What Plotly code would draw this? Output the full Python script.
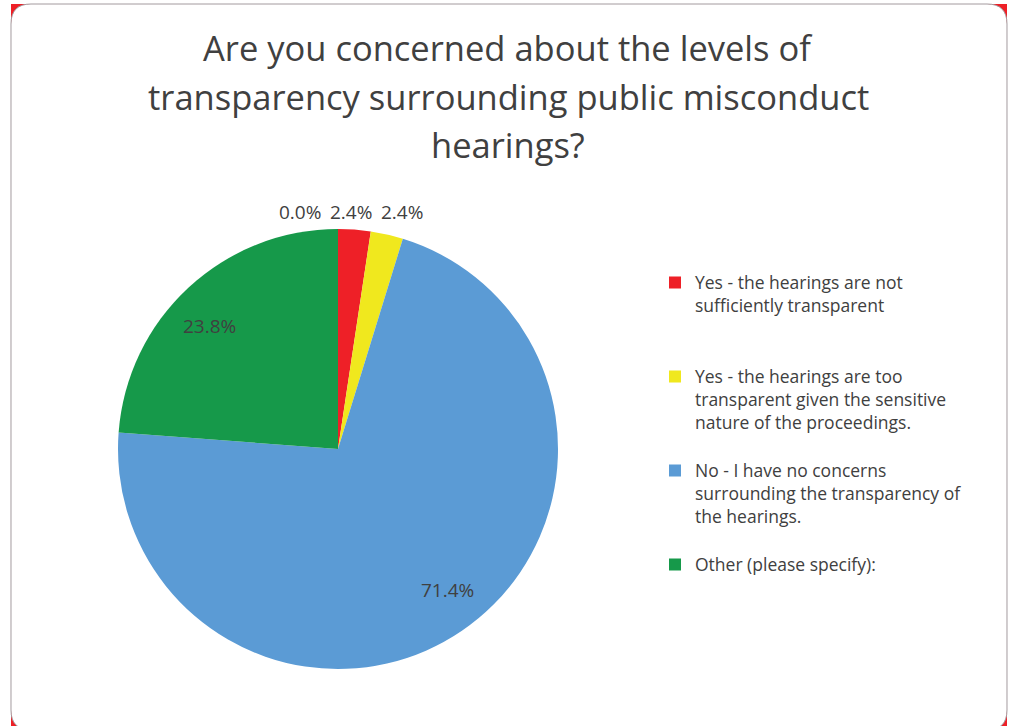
import math
import plotly.graph_objects as go

# Survey responses (counts) and their legend labels
categories = [
    "Yes - the hearings are not<br>sufficiently transparent<br> <br> ",
    "Yes - the hearings are too<br>transparent given the sensitive<br>nature of the proceedings.<br> ",
    "No - I have no concerns<br>surrounding the transparency of<br>the hearings.<br> ",
    "Other (please specify):",
]
counts = [1, 1, 30, 10]
unlisted_count = 0  # answer option nobody picked; labelled on the pie, not in legend
colors = ["#EE2027", "#F0E81E", "#5B9BD5", "#16994A"]

title_lines = [
    "Are you concerned about the levels of",
    "transparency surrounding public misconduct",
    "hearings?",
]

W, H = 1011, 726
FONT = "Open Sans"
TXT = "#404040"

# pie placement in pixels
CX, CY, R = 338, 449, 220
LABEL_TURN = math.radians(-3.5)  # inside labels sit slightly anticlockwise of mid-slice

fig = go.Figure()

fig.add_trace(go.Pie(
    labels=categories,
    values=counts,
    marker=dict(colors=colors, line=dict(width=0)),
    sort=False,
    direction="clockwise",
    rotation=0,
    textinfo="none",
    domain=dict(x=[(CX - R) / W, (CX + R) / W], y=[1 - (CY + R) / H, 1 - (CY - R) / H]),
    hoverinfo="label+percent",
    showlegend=True,
))

# Percentage labels, placed at each slice's mid-angle (clockwise from 12 o'clock)
all_counts = counts + [unlisted_count]
total = sum(all_counts)
label_font = dict(family=FONT, size=19, color=TXT)
annotations = []
outside = []
cum = 0
for c in all_counts:
    share = c / total
    mid = 2 * math.pi * (cum + c / 2) / total
    cum += c
    if share >= 0.1:
        a = mid + LABEL_TURN
        x = CX + 0.81 * R * math.sin(a)
        y = CY - 0.81 * R * math.cos(a)
        annotations.append(dict(text=f"{share:.1%}", x=x / W, y=1 - y / H,
                                xref="paper", yref="paper", showarrow=False,
                                xanchor="center", yanchor="middle", font=label_font))
    else:
        outside.append([CX + 1.3 * R * math.sin(mid), share])

# small slices: labels in a row above the pie, pushed apart right-to-left
outside.sort(key=lambda p: -p[0])
for i in range(1, len(outside)):
    outside[i][0] = min(outside[i][0], outside[i - 1][0] - 51)
for x, share in outside:
    annotations.append(dict(text=f"{share:.1%}", x=x / W, y=1 - (CY - R - 17) / H,
                            xref="paper", yref="paper", showarrow=False,
                            xanchor="center", yanchor="middle", font=label_font))

for i, line in enumerate(title_lines):
    annotations.append(dict(
        text=line, x=508 / W, y=1 - (47 + 49 * i) / H, xref="paper", yref="paper",
        showarrow=False, xanchor="center", yanchor="middle",
        font=dict(family=FONT, size=34.5, color=TXT),
    ))

# Frame: rounded white panel with red corner tabs
x0, x1, y0, y1 = 11, 1007, 4, 730
r = 20
shapes = []
for cx, cy in [(x0, y0), (x1 - 22, y0), (x0, y1 - 22), (x1 - 22, y1 - 22)]:
    shapes.append(dict(type="rect", xref="paper", yref="paper",
                       x0=cx / W, x1=(cx + 22) / W, y0=1 - cy / H, y1=1 - (cy + 22) / H,
                       fillcolor="#EE2027", line=dict(width=0), layer="below"))


def px(x, y):
    return f"{x / W:.5f},{1 - y / H:.5f}"


path = (
    f"M{px(x0 + r, y0)} L{px(x1 - r, y0)} Q{px(x1, y0)} {px(x1, y0 + r)} "
    f"L{px(x1, y1 - r)} Q{px(x1, y1)} {px(x1 - r, y1)} "
    f"L{px(x0 + r, y1)} Q{px(x0, y1)} {px(x0, y1 - r)} "
    f"L{px(x0, y0 + r)} Q{px(x0, y0)} {px(x0 + r, y0)} Z"
)
shapes.append(dict(type="path", xref="paper", yref="paper", path=path,
                   fillcolor="white", line=dict(color="#A39A9E", width=1), layer="below"))

fig.update_layout(
    width=W, height=H,
    margin=dict(l=0, r=0, t=0, b=0),
    paper_bgcolor="white",
    plot_bgcolor="white",
    font=dict(family=FONT, color=TXT),
    annotations=annotations,
    shapes=shapes,
    legend=dict(
        x=655 / W, y=1 - 264.5 / H, xanchor="left", yanchor="top",
        valign="top", traceorder="normal",
        font=dict(family=FONT, size=17.5, color=TXT),
        bgcolor="rgba(0,0,0,0)",
    ),
)

fig.write_html("out.html")
